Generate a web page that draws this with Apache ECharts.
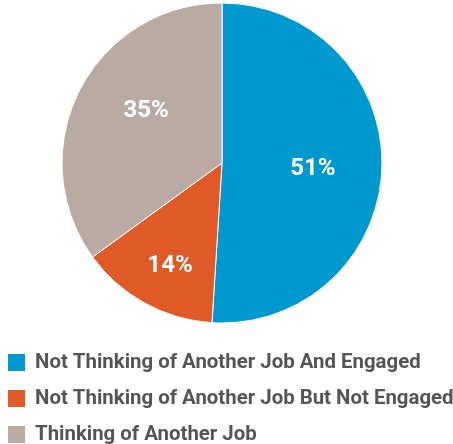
<!DOCTYPE html>
<html>
<head>
<meta charset="utf-8">
<script src="https://cdn.jsdelivr.net/npm/echarts@6/dist/echarts.min.js"></script>
<style>
  html, body { margin: 0; padding: 0; background: #fff; }
  #chart { width: 453px; height: 444px; }
</style>
</head>
<body>
<div id="chart"></div>
<script>
// Share of employees by job-search status and engagement
const categories = [
  'Not Thinking of Another Job And Engaged',
  'Not Thinking of Another Job But Not Engaged',
  'Thinking of Another Job'
];
const values = [51, 14, 35];
const colors = ['#0099CF', '#E05A28', '#B9ABA4'];
// nudges for the in-slice percentage labels
const labelOffsets = [[8, 3], [-12, 30], [-2, -14]];
// vertical position of each legend row
const legendTops = [352, 388, 424];

const chart = echarts.init(document.getElementById('chart'), null, { renderer: 'canvas' });

const data = categories.map((name, i) => ({
  name: name,
  value: values[i],
  itemStyle: { color: colors[i] },
  label: { offset: labelOffsets[i] }
}));

// one legend per row so the last row is not pushed into a second column
const legends = categories.map((name, i) => ({
  orient: 'vertical',
  left: 6,
  top: legendTops[i],
  padding: 0,
  itemWidth: 19,
  itemHeight: 19,
  icon: 'rect',
  data: [name],
  textStyle: {
    fontFamily: 'Roboto',
    fontWeight: 'bold',
    fontSize: 20.4,
    color: '#555555',
    padding: [0, 0, 0, 4]
  }
}));

chart.setOption({
  animation: false,
  legend: legends,
  series: [{
    type: 'pie',
    center: [222, 163],
    radius: [0, 160],
    startAngle: 90,
    clockwise: true,
    avoidLabelOverlap: false,
    itemStyle: { borderColor: '#ffffff', borderWidth: 1 },
    label: {
      show: true,
      position: 'inside',
      formatter: '{c}%',
      color: '#ffffff',
      fontFamily: 'Roboto',
      fontWeight: 'bold',
      fontSize: 24
    },
    labelLine: { show: false },
    emphasis: { disabled: true },
    data: data
  }]
});
</script>
</body>
</html>
